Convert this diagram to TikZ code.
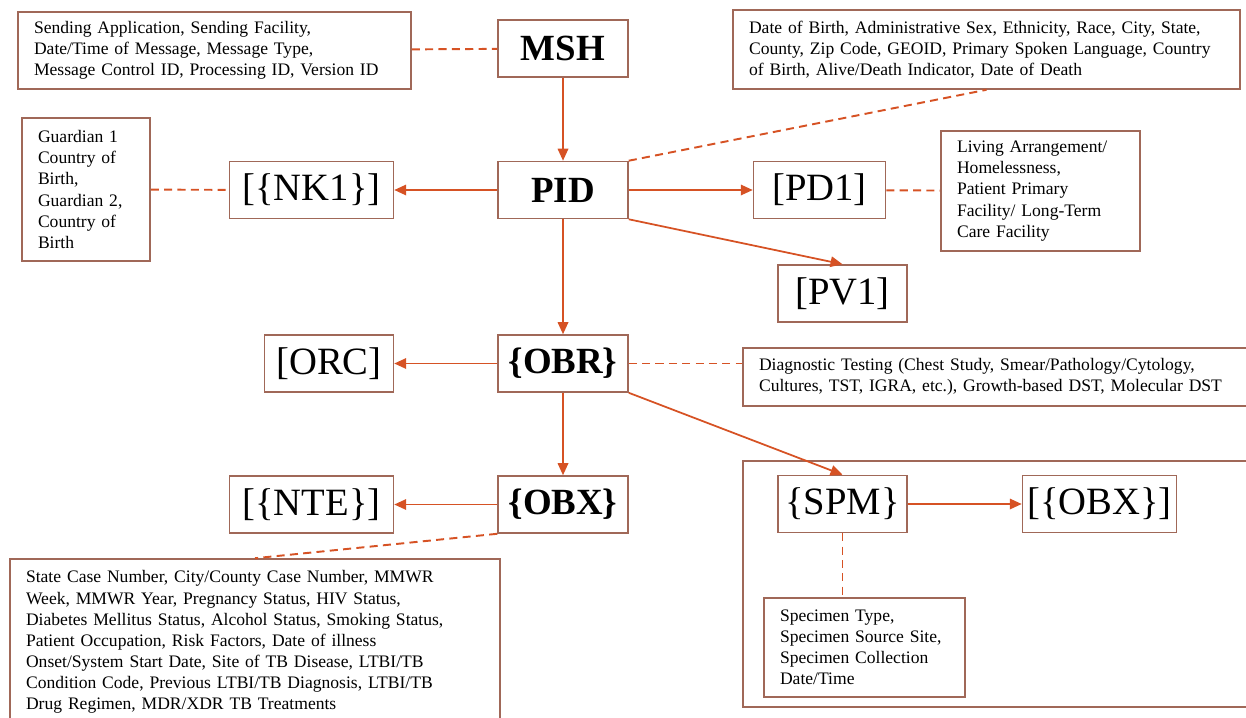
\documentclass[tikz,border=0pt]{standalone}
\usepackage{fontspec}
\setmainfont{Liberation Serif}
\usetikzlibrary{arrows.meta,positioning,calc}
\definecolor{boxbrown}{RGB}{160,104,88}
\definecolor{linkred}{RGB}{214,82,36}

\begin{document}
\begin{tikzpicture}[
  x=0.02cm, y=-0.02cm,
  seg/.style={draw=boxbrown, line width=0.9pt, minimum height=1.14cm, inner sep=0pt, font=\fontsize{22}{24}\selectfont},
  head/.style={seg, font=\fontsize{21}{24}\selectfont\bfseries},
  info/.style={draw=boxbrown, line width=0.9pt, align=left, inner xsep=0.32cm, inner ysep=0pt, font=\fontsize{10}{12}\selectfont},
  arr/.style={-{Triangle[length=2.4mm,width=2.1mm]}, linkred, line width=1pt},
  link/.style={linkred, line width=1.1pt, dash pattern=on 4.6pt off 3pt},
  node distance=2.06cm
]
\useasboundingbox (0,0) rectangle (1246,717);

% main segments
\node[head, minimum width=2.6cm] (msh) at (563,48.5) {MSH};
\node[head, minimum width=2.6cm] (pid) at (563,190) {PID};
\node[head, minimum width=2.6cm] (obr) at (563,363.5) {\{OBR\}};
\node[head, minimum width=2.6cm] (obx) at (563,504.5) {\{OBX\}};

\node[seg, minimum width=3.28cm, left=of pid] (nk1) {[\{NK1\}]};
\node[seg, minimum width=2.64cm, right=2.48cm of pid] (pd1) {[PD1]};
\node[seg, minimum width=2.58cm] (pv1) at (842.5,293.5) {[PV1]};
\node[seg, minimum width=2.58cm, left=of obr] (orc) {[ORC]};
\node[seg, minimum width=3.28cm, left=of obx] (nte) {[\{NTE\}]};
\node[seg, minimum width=2.58cm] (spm) at (842.5,504) {\{SPM\}};
\node[seg, minimum width=3.08cm, right=2.28cm of spm] (obx2) {[\{OBX\}]};

% specimen group
\draw[boxbrown, line width=0.9pt] (743,461) rectangle (1252,707);

% field lists
\node[info, text width=7.22cm, minimum height=1.54cm] (mshinfo) at (214.5,50.5)
  {Sending Application, Sending Facility,\\Date/Time of Message, Message Type,\\Message Control ID, Processing ID, Version ID};
\node[info, text width=9.5cm, minimum height=1.58cm] (pidinfo) at (986.5,49.5)
  {Date of Birth, Administrative Sex, Ethnicity, Race, City, State,\\County, Zip Code, GEOID, Primary Spoken Language, Country\\of Birth, Alive/Death Indicator, Date of Death};
\node[info, text width=1.92cm, minimum height=2.86cm] (nkinfo) at (86,189.5)
  {Guardian 1\\Country of\\Birth,\\Guardian 2,\\Country of\\Birth};
\node[info, text width=3.34cm, minimum height=2.4cm] (pdinfo) at (1040.5,191)
  {Living Arrangement/\\Homelessness,\\Patient Primary\\Facility/ Long-Term\\Care Facility};
\node[info, text width=9.54cm, minimum height=1.16cm] (obrinfo) at (997.5,377)
  {Diagnostic Testing (Chest Study, Smear/Pathology/Cytology,\\Cultures, TST, IGRA, etc.), Growth-based DST, Molecular DST};
\node[info, text width=9.16cm, minimum height=3.32cm] (obxinfo) at (255,642)
  {State Case Number, City/County Case Number, MMWR\\Week, MMWR Year, Pregnancy Status, HIV Status,\\Diabetes Mellitus Status, Alcohol Status, Smoking Status,\\Patient Occupation, Risk Factors, Date of illness\\Onset/System Start Date, Site of TB Disease, LTBI/TB\\Condition Code, Previous LTBI/TB Diagnosis, LTBI/TB\\Drug Regimen, MDR/XDR TB Treatments};
\node[info, text width=3.38cm, minimum height=1.98cm] (spminfo) at (864.5,647.5)
  {Specimen Type,\\Specimen Source Site,\\Specimen Collection\\Date/Time};

% arrows
\draw[arr] (msh) -- (pid);
\draw[arr] (pid) -- (nk1);
\draw[arr] (pid) -- (pd1);
\draw[arr] (pid.south east) -- (pv1.north);
\draw[arr] (pid) -- (obr);
\draw[arr] (obr) -- (orc);
\draw[arr] (obr.south east) -- (spm.north);
\draw[arr] (obr) -- (obx);
\draw[arr] (obx) -- (nte);
\draw[arr] (spm) -- (obx2);

% dashed links
\draw[link] (mshinfo) -- (msh);
\draw[link] (pid.north east) -- (pidinfo.south);
\draw[link] (nkinfo) -- (nk1);
\draw[link] (pd1) -- (pdinfo);
\draw[link] (obr.east) -- (obr.east -| obrinfo.west);
\draw[link] (obx.south west) -- (obxinfo.north);
\draw[link] (spm.south) -- (spm.south |- spminfo.north);
\end{tikzpicture}
\end{document}
